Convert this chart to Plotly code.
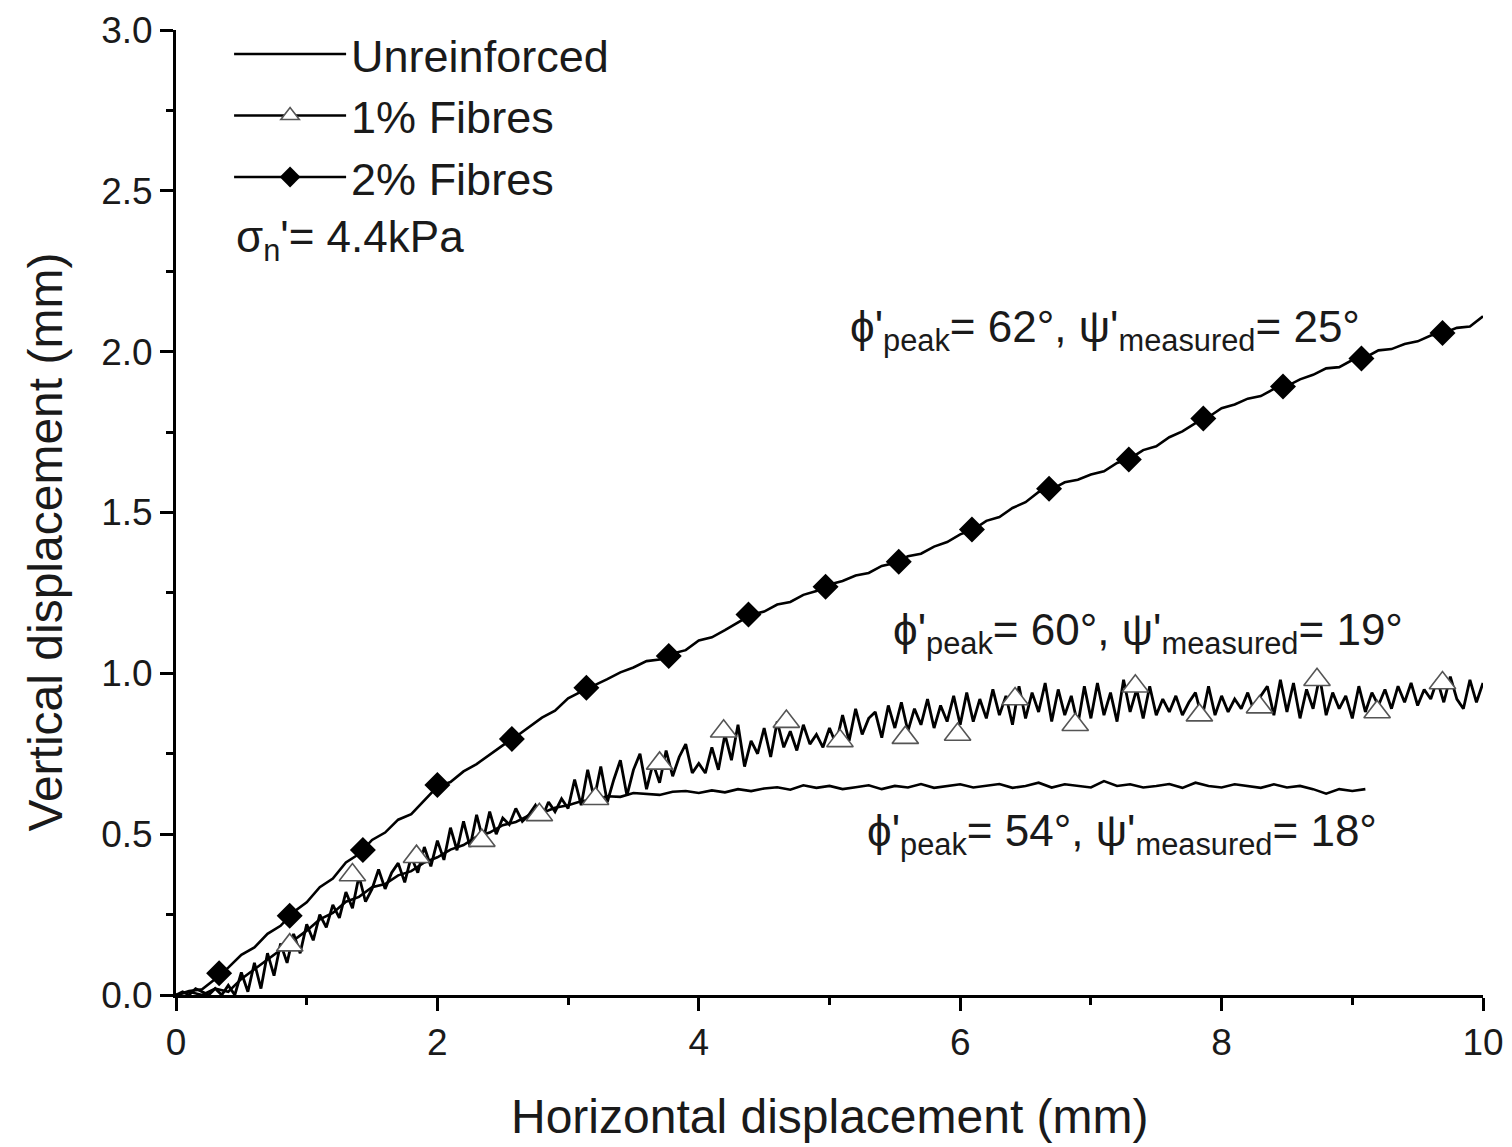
import plotly.graph_objects as go

# ---------------- data ----------------
# 2% fibres: continuous record
x_2 = [0.0, 0.1, 0.2, 0.3, 0.4, 0.5, 0.6, 0.7, 0.8, 0.9,
       1.0, 1.1, 1.2, 1.3, 1.4, 1.5, 1.6, 1.7, 1.8, 1.9,
       2.0, 2.1, 2.2, 2.3, 2.4, 2.5, 2.6, 2.7, 2.8, 2.9,
       3.0, 3.1, 3.2, 3.3, 3.4, 3.5, 3.6, 3.7, 3.8, 3.9,
       4.0, 4.1, 4.2, 4.3, 4.4, 4.5, 4.6, 4.7, 4.8, 4.9,
       5.0, 5.1, 5.2, 5.3, 5.4, 5.5, 5.6, 5.7, 5.8, 5.9,
       6.0, 6.1, 6.2, 6.3, 6.4, 6.5, 6.6, 6.7, 6.8, 6.9,
       7.0, 7.1, 7.2, 7.3, 7.4, 7.5, 7.6, 7.7, 7.8, 7.9,
       8.0, 8.1, 8.2, 8.3, 8.4, 8.5, 8.6, 8.7, 8.8, 8.9,
       9.0, 9.1, 9.2, 9.3, 9.4, 9.5, 9.6, 9.7, 9.8, 9.9, 10.0]
y_2 = [0.0, 0.012, 0.018, 0.05, 0.085, 0.125, 0.148, 0.19, 0.215, 0.258,
       0.288, 0.335, 0.362, 0.412, 0.438, 0.482, 0.505, 0.545, 0.562, 0.605,
       0.648, 0.662, 0.695, 0.718, 0.748, 0.776, 0.803, 0.832, 0.862, 0.884,
       0.922, 0.943, 0.962, 0.982, 1.003, 1.018, 1.038, 1.043, 1.062, 1.072,
       1.102, 1.112, 1.134, 1.158, 1.182, 1.192, 1.214, 1.222, 1.244, 1.256,
       1.276, 1.287, 1.304, 1.312, 1.334, 1.343, 1.364, 1.372, 1.394, 1.408,
       1.432, 1.447, 1.474, 1.486, 1.514, 1.532, 1.564, 1.572, 1.594, 1.602,
       1.618, 1.628, 1.654, 1.668, 1.694, 1.706, 1.734, 1.752, 1.778, 1.797,
       1.824, 1.836, 1.854, 1.862, 1.884, 1.893, 1.914, 1.928, 1.948, 1.952,
       1.974, 1.982, 2.004, 2.008, 2.024, 2.032, 2.05, 2.058, 2.074, 2.078, 2.11]
x_2_mk = [0.33, 0.87, 1.43, 2.00, 2.57, 3.14, 3.77, 4.38, 4.97, 5.53,
          6.09, 6.68, 7.29, 7.86, 8.47, 9.07, 9.69]
y_2_mk = [0.068, 0.246, 0.451, 0.653, 0.796, 0.955, 1.054, 1.183, 1.269, 1.347,
          1.447, 1.574, 1.665, 1.792, 1.892, 1.979, 2.058]

# 1% fibres: continuous record
x_1 = [0.00, 0.05, 0.10, 0.15, 0.20, 0.25, 0.30, 0.35, 0.40, 0.45, 0.50, 0.55, 0.60, 0.65, 0.70, 0.75, 0.80, 0.85, 0.90, 0.95,
       1.00, 1.05, 1.10, 1.15, 1.20, 1.25, 1.30, 1.35, 1.40, 1.45, 1.50, 1.55, 1.60, 1.65, 1.70, 1.75, 1.80, 1.85, 1.90, 1.95,
       2.00, 2.05, 2.10, 2.15, 2.20, 2.25, 2.30, 2.35, 2.40, 2.45, 2.50, 2.55, 2.60, 2.65, 2.70, 2.75, 2.80, 2.85, 2.90, 2.95,
       3.00, 3.05, 3.10, 3.15, 3.20, 3.25, 3.30, 3.35, 3.40, 3.45, 3.50, 3.55, 3.60, 3.65, 3.70, 3.75, 3.80, 3.85, 3.90, 3.95,
       4.00, 4.05, 4.10, 4.15, 4.20, 4.25, 4.30, 4.35, 4.40, 4.45, 4.50, 4.55, 4.60, 4.65, 4.70, 4.75, 4.80, 4.85, 4.90, 4.95,
       5.00, 5.05, 5.10, 5.15, 5.20, 5.25, 5.30, 5.35, 5.40, 5.45, 5.50, 5.55, 5.60, 5.65, 5.70, 5.75, 5.80, 5.85, 5.90, 5.95,
       6.00, 6.05, 6.10, 6.15, 6.20, 6.25, 6.30, 6.35, 6.40, 6.45, 6.50, 6.55, 6.60, 6.65, 6.70, 6.75, 6.80, 6.85, 6.90, 6.95,
       7.00, 7.05, 7.10, 7.15, 7.20, 7.25, 7.30, 7.35, 7.40, 7.45, 7.50, 7.55, 7.60, 7.65, 7.70, 7.75, 7.80, 7.85, 7.90, 7.95,
       8.00, 8.05, 8.10, 8.15, 8.20, 8.25, 8.30, 8.35, 8.40, 8.45, 8.50, 8.55, 8.60, 8.65, 8.70, 8.75, 8.80, 8.85, 8.90, 8.95,
       9.00, 9.05, 9.10, 9.15, 9.20, 9.25, 9.30, 9.35, 9.40, 9.45, 9.50, 9.55, 9.60, 9.65, 9.70, 9.75, 9.80, 9.85, 9.90, 9.95,
       10.00]
y_1 = [0.00, 0.01, 0.00, 0.02, 0.01, 0.00, 0.02, 0.00, 0.03, 0.00, 0.07, 0.01, 0.10, 0.02, 0.13, 0.06, 0.16, 0.10, 0.19, 0.13,
       0.22, 0.17, 0.25, 0.21, 0.28, 0.24, 0.32, 0.27, 0.37, 0.29, 0.33, 0.39, 0.33, 0.38, 0.41, 0.35, 0.43, 0.38, 0.46, 0.40,
       0.48, 0.42, 0.52, 0.45, 0.54, 0.46, 0.56, 0.48, 0.57, 0.50, 0.55, 0.53, 0.58, 0.54, 0.56, 0.59, 0.55, 0.60, 0.57, 0.61,
       0.58, 0.67, 0.59, 0.70, 0.61, 0.71, 0.60, 0.67, 0.73, 0.62, 0.70, 0.75, 0.64, 0.72, 0.66, 0.76, 0.68, 0.74, 0.78, 0.69,
       0.72, 0.69, 0.77, 0.70, 0.81, 0.73, 0.84, 0.71, 0.79, 0.75, 0.83, 0.74, 0.85, 0.77, 0.82, 0.76, 0.84, 0.78, 0.81, 0.77,
       0.83, 0.78, 0.87, 0.79, 0.89, 0.81, 0.86, 0.88, 0.80, 0.90, 0.83, 0.91, 0.82, 0.89, 0.84, 0.92, 0.83, 0.90, 0.85, 0.93,
       0.84, 0.94, 0.85, 0.92, 0.86, 0.95, 0.87, 0.93, 0.84, 0.96, 0.86, 0.94, 0.88, 0.97, 0.85, 0.95, 0.87, 0.93, 0.84, 0.96,
       0.86, 0.97, 0.87, 0.94, 0.85, 0.98, 0.88, 0.95, 0.86, 0.96, 0.87, 0.92, 0.88, 0.93, 0.87, 0.91, 0.94, 0.86, 0.96, 0.87,
       0.93, 0.88, 0.92, 0.89, 0.94, 0.88, 0.93, 0.96, 0.87, 0.98, 0.88, 0.97, 0.86, 0.95, 0.89, 0.99, 0.87, 0.94, 0.89, 0.93,
       0.86, 0.96, 0.88, 0.94, 0.90, 0.95, 0.89, 0.96, 0.91, 0.97, 0.90, 0.95, 0.92, 0.98, 0.91, 0.99, 0.92, 0.89, 0.98, 0.91,
       0.97]
x_1_mk = [0.87, 1.35, 1.84, 2.34, 2.78, 3.21, 3.70, 4.19, 4.67, 5.08,
          5.58, 5.98, 6.42, 6.88, 7.34, 7.83, 8.29, 8.73, 9.19, 9.69]
y_1_mk = [0.155, 0.373, 0.43, 0.48, 0.56, 0.61, 0.72, 0.82, 0.85, 0.79,
          0.80, 0.81, 0.92, 0.84, 0.96, 0.87, 0.895, 0.98, 0.88, 0.97]

# Unreinforced: continuous record
x_0 = [0.0, 0.1, 0.2, 0.3, 0.4, 0.5, 0.6, 0.7, 0.8, 0.9,
       1.0, 1.1, 1.2, 1.3, 1.4, 1.5, 1.6, 1.7, 1.8, 1.9,
       2.0, 2.1, 2.2, 2.3, 2.4, 2.5, 2.6, 2.7, 2.8, 2.9,
       3.0, 3.1, 3.2, 3.3, 3.4, 3.5, 3.6, 3.7, 3.8, 3.9,
       4.0, 4.1, 4.2, 4.3, 4.4, 4.5, 4.6, 4.7, 4.8, 4.9,
       5.0, 5.1, 5.2, 5.3, 5.4, 5.5, 5.6, 5.7, 5.8, 5.9,
       6.0, 6.1, 6.2, 6.3, 6.4, 6.5, 6.6, 6.7, 6.8, 6.9,
       7.0, 7.1, 7.2, 7.3, 7.4, 7.5, 7.6, 7.7, 7.8, 7.9,
       8.0, 8.1, 8.2, 8.3, 8.4, 8.5, 8.6, 8.7, 8.8, 8.9,
       9.0, 9.1]
y_0 = [0.0, 0.01, 0.0, 0.02, 0.01, 0.05, 0.08, 0.11, 0.14, 0.17,
       0.20, 0.235, 0.255, 0.29, 0.305, 0.335, 0.345, 0.372, 0.385, 0.412,
       0.428, 0.452, 0.466, 0.492, 0.505, 0.528, 0.538, 0.558, 0.566, 0.582,
       0.59, 0.602, 0.608, 0.618, 0.616, 0.628, 0.626, 0.622, 0.632, 0.634,
       0.628, 0.636, 0.63, 0.64, 0.634, 0.642, 0.646, 0.638, 0.652, 0.644,
       0.65, 0.64, 0.646, 0.652, 0.64, 0.65, 0.645, 0.656, 0.644, 0.65,
       0.655, 0.645, 0.65, 0.656, 0.644, 0.65, 0.66, 0.645, 0.655, 0.65,
       0.645, 0.665, 0.65, 0.655, 0.645, 0.65, 0.656, 0.644, 0.66, 0.65,
       0.645, 0.655, 0.65, 0.644, 0.655, 0.645, 0.65, 0.64, 0.626, 0.64,
       0.634, 0.64]

series_names = ["Unreinforced", "1% Fibres", "2% Fibres"]
x_ticks = [0, 2, 4, 6, 8, 10]
y_ticks = [0.0, 0.5, 1.0, 1.5, 2.0, 2.5, 3.0]
y_tick_text = ["0.0", "0.5", "1.0", "1.5", "2.0", "2.5", "3.0"]
x_title = "Horizontal displacement (mm)"
y_title = "Vertical displacement (mm)"

# ---------------- figure ----------------
FONT = "Liberation Sans, Arial, sans-serif"
TXT = "#1a1a1a"
LW = 2.6

fig = go.Figure()

fig.add_trace(go.Scatter(x=x_0, y=y_0, mode="lines", line=dict(color="black", width=LW),
                         showlegend=False, hoverinfo="skip"))
fig.add_trace(go.Scatter(x=x_1, y=y_1, mode="lines", line=dict(color="black", width=2.8),
                         showlegend=False, hoverinfo="skip"))
fig.add_trace(go.Scatter(x=x_2, y=y_2, mode="lines", line=dict(color="black", width=LW),
                         showlegend=False, hoverinfo="skip"))
fig.add_trace(go.Scatter(x=x_1_mk, y=y_1_mk, mode="markers",
                         marker=dict(symbol="triangle-up", size=23, color="white",
                                     line=dict(color="#555555", width=1.6)),
                         showlegend=False, hoverinfo="skip", cliponaxis=False))
fig.add_trace(go.Scatter(x=x_2_mk, y=y_2_mk, mode="markers",
                         marker=dict(symbol="diamond", size=20, color="black",
                                     line=dict(color="black", width=0)),
                         showlegend=False, hoverinfo="skip", cliponaxis=False))

# legend entries
fig.add_trace(go.Scatter(x=[None], y=[None], mode="lines", name=series_names[0],
                         line=dict(color="black", width=LW)))
fig.add_trace(go.Scatter(x=[None], y=[None], mode="lines+markers", name=series_names[1],
                         line=dict(color="black", width=LW),
                         marker=dict(symbol="triangle-up", size=23, color="white",
                                     line=dict(color="#555555", width=1.6))))
fig.add_trace(go.Scatter(x=[None], y=[None], mode="lines+markers", name=series_names[2],
                         line=dict(color="black", width=LW),
                         marker=dict(symbol="diamond", size=20, color="black")))

ann_font = dict(family=FONT, size=44, color=TXT)
annotations = [
    dict(x=0.44, y=2.347, text="σ<sub>n</sub>'= 4.4kPa"),
    dict(x=5.14, y=2.068, text="ϕ'<sub>peak</sub>= 62°, ψ'<sub>measured</sub>= 25°"),
    dict(x=5.47, y=1.125, text="ϕ'<sub>peak</sub>= 60°, ψ'<sub>measured</sub>= 19°"),
    dict(x=5.27, y=0.50, text="ϕ'<sub>peak</sub>= 54°, ψ'<sub>measured</sub>= 18°"),
]
for a in annotations:
    fig.add_annotation(x=a["x"], y=a["y"], text=a["text"], xref="x", yref="y",
                       xanchor="left", yanchor="middle", showarrow=False, font=ann_font)

# axis titles (placed as paper-referenced text)
title_font = dict(family=FONT, size=48, color=TXT)
fig.add_annotation(x=0.5004, y=-0.1264, xref="paper", yref="paper", text=x_title,
                   showarrow=False, xanchor="center", yanchor="middle", font=title_font)
fig.add_annotation(x=-0.1002, y=0.469, xref="paper", yref="paper", text=y_title,
                   showarrow=False, xanchor="center", yanchor="middle", textangle=-90,
                   font=title_font)

axis_common = dict(
    showgrid=False, zeroline=False, showline=True, linecolor="black", linewidth=3,
    ticks="outside", ticklen=13, tickwidth=3, tickcolor="black", mirror=False,
    tickfont=dict(family=FONT, size=37, color=TXT), automargin=False,
)

# page body has an 8px margin: the figure is offset by (8, 8) in the window
fig.update_layout(
    width=1504, height=1139,
    margin=dict(l=168, r=29, t=22, b=152, autoexpand=False),
    paper_bgcolor="white", plot_bgcolor="white",
    font=dict(family=FONT, color=TXT),
    xaxis=dict(range=[0, 10], tickvals=x_ticks, ticktext=[str(v) for v in x_ticks],
               minor=dict(ticks="outside", ticklen=7, tickwidth=3, tickcolor="black", dtick=1, tick0=0),
               **axis_common),
    yaxis=dict(range=[0, 3], tickvals=y_ticks, ticktext=y_tick_text,
               minor=dict(ticks="outside", ticklen=7, tickwidth=3, tickcolor="black", dtick=0.25, tick0=0),
               **axis_common),
    legend=dict(x=0.147, y=0.991, xref="container", yref="container",
                xanchor="left", yanchor="top", bgcolor="rgba(0,0,0,0)",
                font=dict(family=FONT, size=45, color=TXT), itemwidth=112,
                tracegroupgap=0),
)

fig.write_html("out.html")
